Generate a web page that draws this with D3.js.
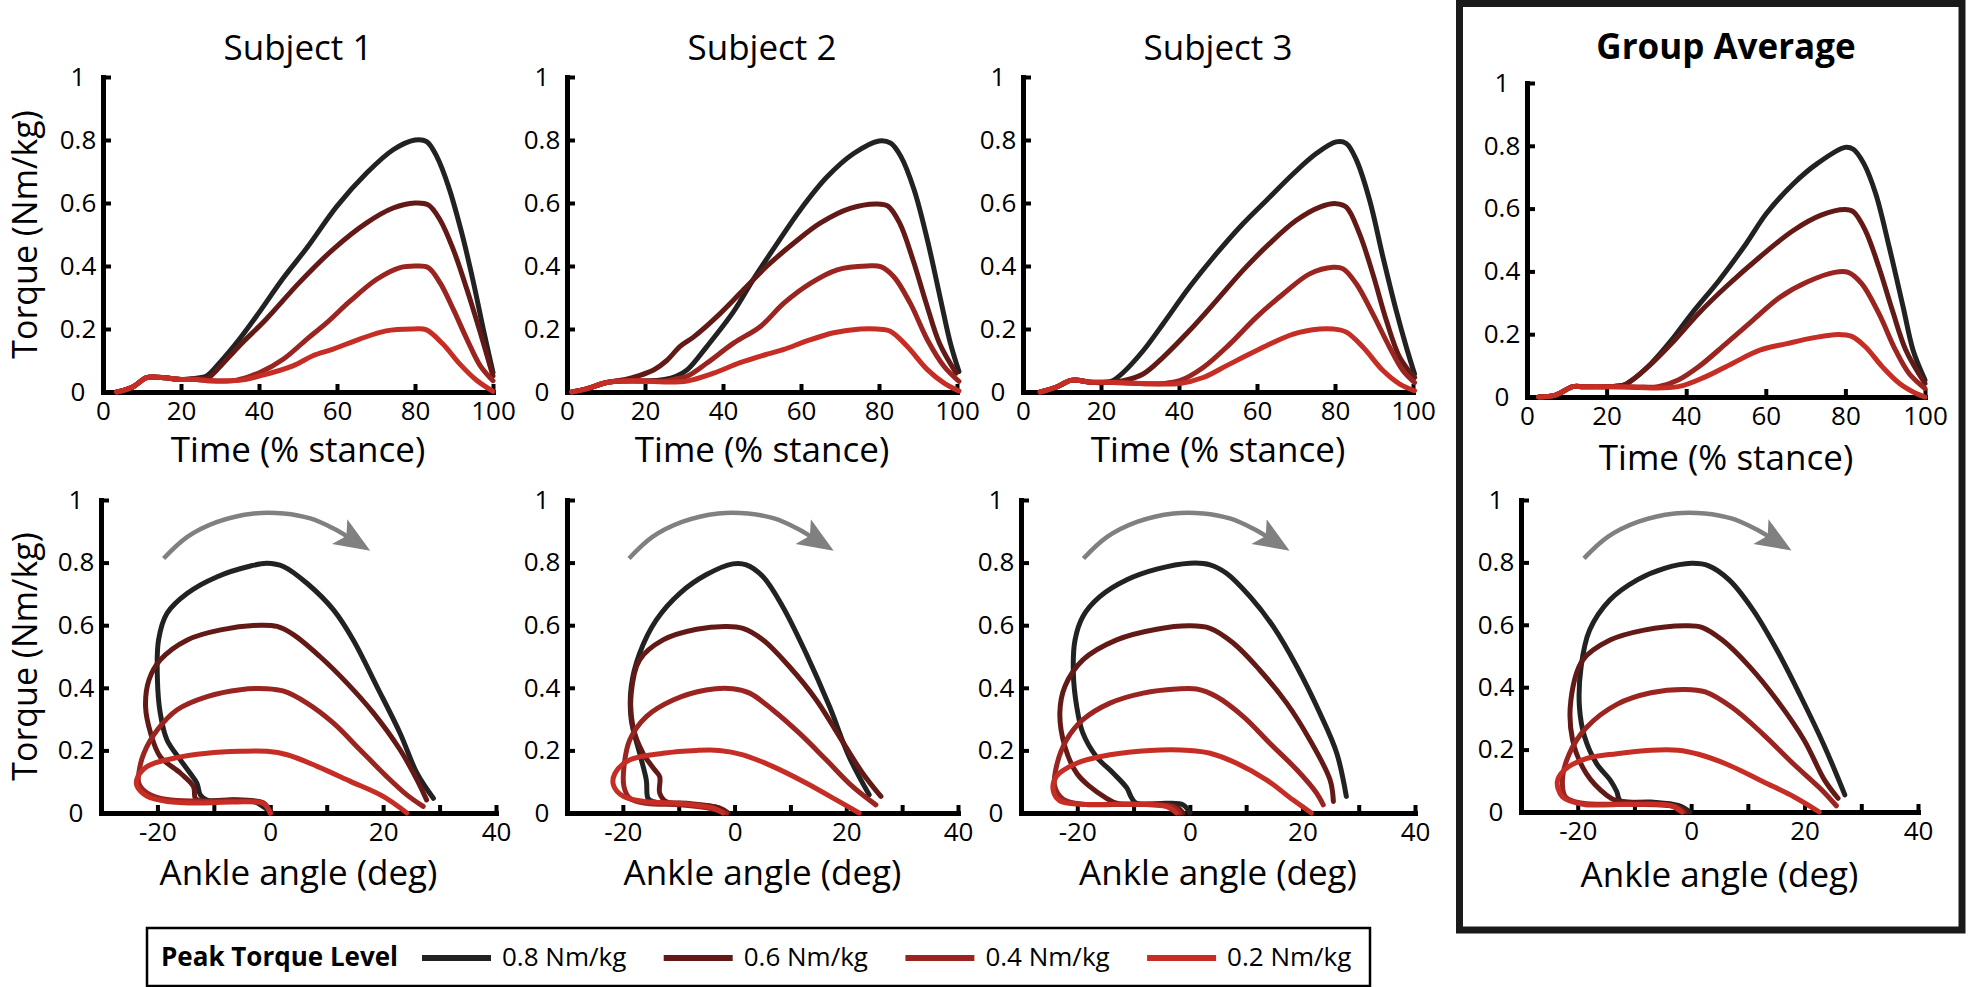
<!DOCTYPE html>
<html><head><meta charset="utf-8">
<script src="https://cdn.jsdelivr.net/npm/d3@7"></script>
<style>
body{margin:0;background:#fff}
svg{display:block}
text{font-family:'Open Sans','Noto Sans',sans-serif;fill:#000}
</style>
</head><body>
<svg id="chart" width="1968" height="987"></svg>
<script>
// ---------------- DATA ----------------
const levelLabels = ["0.8 Nm/kg", "0.6 Nm/kg", "0.4 Nm/kg", "0.2 Nm/kg"];
const levelColors = ["#222222", "#631a16", "#9a2420", "#c62d25"];
const panelTitles = ["Subject 1", "Subject 2", "Subject 3", "Group Average"];
const torqueTicks = [0, 0.2, 0.4, 0.6, 0.8, 1];
const timeTicks = [0, 20, 40, 60, 80, 100];
const angleTicks = [-20, -10, 0, 10, 20, 30, 40];

// Torque vs time (% stance); series order: 0.8, 0.6, 0.4, 0.2 Nm/kg
const subject1Time = [
  [[3.5,0],[7.5,0.015],[11,0.045],[13,0.048],[16,0.045],[20,0.04],[24,0.044],[26.5,0.05],[30,0.094],[35,0.168],[40,0.252],[46,0.358],[52.3,0.458],[60,0.59],[67.6,0.695],[74.4,0.769],[80,0.8],[83,0.795],[85.6,0.747],[88.6,0.652],[92,0.504],[95,0.347],[97.5,0.2],[100,0.062]],
  [[3.5,0],[7.5,0.015],[11,0.045],[13,0.048],[16,0.045],[20,0.04],[24,0.042],[27,0.045],[29.2,0.07],[35,0.147],[41.9,0.232],[50.4,0.348],[59,0.453],[67.6,0.537],[74.4,0.584],[80,0.6],[83.4,0.594],[86.4,0.547],[89.8,0.453],[93.3,0.326],[96.7,0.19],[100,0.051]],
  [[3.5,0],[7.5,0.015],[11,0.045],[13,0.048],[16,0.045],[20,0.04],[24,0.04],[27,0.036],[34,0.037],[40.2,0.062],[46.2,0.104],[52.3,0.168],[57.4,0.22],[63.4,0.289],[70.2,0.358],[76.2,0.395],[80.5,0.4],[83.4,0.395],[86.4,0.347],[89.8,0.263],[93.3,0.168],[96.7,0.084],[100,0.036]],
  [[3.5,0],[7.5,0.015],[11,0.045],[13,0.048],[16,0.045],[20,0.04],[24,0.04],[27,0.036],[35,0.037],[40.2,0.051],[48.7,0.083],[53.8,0.115],[59,0.136],[65.8,0.168],[72.6,0.194],[79.4,0.2],[82.8,0.198],[87.1,0.153],[91.4,0.09],[95.7,0.038],[100,0.002]]
];
const subject2Time = [
  [[1.2,0],[5,0.01],[10.2,0.03],[15,0.035],[20,0.035],[25,0.04],[28,0.05],[30.8,0.07],[35.9,0.145],[42.7,0.255],[47.9,0.36],[53.8,0.47],[59.8,0.578],[66.7,0.683],[73.5,0.757],[80,0.797],[83,0.79],[85.6,0.748],[89,0.642],[92.4,0.483],[95.8,0.293],[98.3,0.155],[100.5,0.065]],
  [[1.2,0],[5,0.01],[10.2,0.03],[15,0.04],[18,0.05],[22.2,0.07],[25.6,0.1],[29,0.145],[32.5,0.175],[38.5,0.24],[45.3,0.325],[51.3,0.4],[58.1,0.472],[64.9,0.536],[72.6,0.583],[79.4,0.597],[82.3,0.59],[85.3,0.536],[88.7,0.42],[92.1,0.282],[95.5,0.155],[99.8,0.06]],
  [[1.2,0],[5,0.01],[10.2,0.03],[15,0.035],[20,0.035],[25,0.035],[27.3,0.04],[30.8,0.05],[35.9,0.092],[42.7,0.155],[49.6,0.208],[55.6,0.282],[62.4,0.345],[69.3,0.388],[77,0.4],[80.4,0.398],[83.8,0.366],[88,0.282],[92.4,0.166],[96.7,0.081],[100.5,0.034]],
  [[1.2,0],[5,0.01],[10.2,0.03],[15,0.035],[20,0.035],[25,0.032],[30.8,0.035],[37.6,0.06],[44.4,0.093],[51.3,0.12],[55.6,0.135],[61.5,0.162],[68.4,0.188],[75.2,0.2],[79.4,0.2],[82.9,0.193],[87.2,0.145],[92.4,0.071],[96.7,0.028],[100.5,0.003]]
];
const subject3Time = [
  [[4.4,0],[8.6,0.016],[12,0.036],[13.5,0.038],[17.2,0.031],[21.5,0.031],[23,0.036],[25.7,0.062],[30.8,0.131],[35.9,0.216],[42.7,0.333],[49.6,0.439],[56.4,0.534],[62.4,0.608],[69.3,0.693],[75.2,0.757],[80.3,0.794],[82.9,0.789],[85.5,0.736],[88.9,0.608],[92.3,0.428],[95.7,0.258],[98.3,0.142],[100.4,0.057]],
  [[4.4,0],[8.6,0.016],[12,0.036],[13.5,0.038],[17.2,0.031],[21.5,0.031],[25.7,0.036],[30.8,0.057],[35.9,0.11],[42.7,0.195],[49.6,0.29],[56.4,0.386],[63.2,0.471],[70.1,0.545],[76.1,0.587],[80.3,0.598],[82.9,0.587],[86.3,0.502],[89.7,0.375],[93.2,0.226],[96.6,0.11],[100.4,0.046]],
  [[4.4,0],[8.6,0.016],[12,0.036],[13.5,0.038],[17.2,0.031],[21.5,0.031],[30,0.027],[35.9,0.027],[40.2,0.036],[46.2,0.078],[53,0.152],[59.8,0.237],[66.7,0.311],[73.5,0.375],[79.5,0.396],[82.1,0.391],[85.5,0.343],[89.7,0.248],[94,0.142],[97.4,0.068],[100.4,0.03]],
  [[4.4,0],[8.6,0.016],[12,0.036],[13.5,0.038],[17.2,0.031],[21.5,0.031],[30,0.027],[40.2,0.027],[46.2,0.046],[52.1,0.083],[56.4,0.11],[62.4,0.147],[69.3,0.184],[76.1,0.2],[79.5,0.2],[82.9,0.19],[87.2,0.142],[92.3,0.068],[96.6,0.025],[100.4,0.004]]
];
const groupTime = [
  [[2.9,0],[7.2,0.006],[11.5,0.033],[14.1,0.033],[19.2,0.033],[24.3,0.038],[26,0.05],[31.2,0.107],[36.3,0.181],[41.4,0.266],[48.3,0.372],[55.1,0.489],[60.2,0.585],[67,0.68],[73,0.744],[79.9,0.795],[82,0.789],[84.6,0.744],[87.6,0.648],[91,0.478],[94.5,0.287],[97,0.149],[100,0.054]],
  [[2.9,0],[7.2,0.006],[11.5,0.033],[14.1,0.033],[19.2,0.033],[24.3,0.038],[26,0.05],[31.2,0.105],[36.3,0.17],[43.1,0.266],[50,0.351],[58.5,0.446],[67,0.531],[73.9,0.579],[79.9,0.597],[82,0.59],[85,0.531],[88.4,0.414],[91.8,0.276],[95.2,0.149],[100,0.043]],
  [[2.9,0],[7.2,0.006],[11.5,0.033],[14.1,0.033],[19.2,0.033],[24.3,0.033],[28,0.032],[32.9,0.033],[38,0.054],[43.1,0.096],[50,0.17],[56.8,0.245],[63.7,0.319],[70.5,0.367],[77.3,0.397],[80.7,0.397],[84.1,0.361],[88.4,0.266],[92.6,0.149],[96,0.075],[100,0.027]],
  [[2.9,0],[7.2,0.006],[11.5,0.033],[14.1,0.033],[19.2,0.033],[24.3,0.032],[28,0.03],[38,0.033],[44.8,0.064],[51.6,0.107],[58.5,0.149],[65.3,0.17],[72.2,0.189],[78.2,0.199],[81.6,0.193],[85,0.16],[89.3,0.096],[93.6,0.043],[97.8,0.011],[100,0]]
];

// Torque vs ankle angle (deg); series order: 0.8, 0.6, 0.4, 0.2 Nm/kg
const subject1Angle = [
  [[0.3,0],[-0.5,0.011],[-2.8,0.036],[-6.5,0.042],[-11.2,0.041],[-12.4,0.058],[-13,0.095],[-14.2,0.127],[-15.9,0.169],[-18.3,0.233],[-19.5,0.319],[-20,0.425],[-19.8,0.553],[-18.3,0.638],[-14.7,0.702],[-9.4,0.755],[-3.5,0.789],[-0.6,0.798],[2.4,0.787],[6.5,0.734],[11.2,0.649],[14.7,0.553],[18.9,0.404],[23,0.255],[26,0.127],[28.9,0.047]],
  [[0,0],[-1.2,0.032],[-5.3,0.041],[-12.4,0.038],[-13.3,0.047],[-13.6,0.084],[-15.9,0.127],[-19.5,0.18],[-21.2,0.255],[-22.1,0.34],[-21.5,0.425],[-19.5,0.489],[-14.7,0.553],[-8.8,0.585],[-1.8,0.6],[1.2,0.596],[4.1,0.57],[8.8,0.5],[13.6,0.415],[18.3,0.319],[23,0.202],[26,0.106],[27.7,0.042]],
  [[0,0],[-1.2,0.03],[-6.5,0.038],[-12.4,0.038],[-18.3,0.043],[-21.8,0.064],[-23.3,0.095],[-23.3,0.127],[-22.4,0.191],[-20,0.266],[-16.5,0.33],[-11.2,0.372],[-5.3,0.394],[-0.6,0.397],[2.4,0.389],[6.5,0.351],[11.2,0.287],[15.9,0.202],[20.6,0.117],[24.2,0.058],[27.1,0.021]],
  [[0,0],[-1.2,0.03],[-6.5,0.035],[-12.4,0.032],[-18.3,0.037],[-21.8,0.053],[-23.6,0.085],[-23.6,0.111],[-21.8,0.149],[-17.1,0.175],[-11.2,0.191],[-5.3,0.197],[-0.6,0.197],[3,0.186],[8.3,0.149],[14.2,0.101],[20,0.053],[24.2,0]]
];
const subject2Angle = [
  [[-1.2,0],[-2.7,0.016],[-6.8,0.026],[-14.6,0.036],[-15.5,0.047],[-15.8,0.105],[-17,0.191],[-18.5,0.298],[-18.5,0.404],[-17,0.51],[-14,0.617],[-9.8,0.702],[-5.1,0.761],[-0.3,0.796],[2.1,0.793],[5.1,0.755],[8.6,0.66],[12.8,0.51],[17,0.34],[20.5,0.18],[24.1,0.058]],
  [[-1.2,0],[-2.7,0.016],[-8.6,0.031],[-12.2,0.036],[-13.4,0.063],[-13.4,0.116],[-14.3,0.138],[-16.4,0.191],[-18.2,0.276],[-18.5,0.383],[-17,0.489],[-12.8,0.553],[-6.8,0.587],[-1.5,0.596],[1.5,0.59],[5.1,0.553],[9.8,0.468],[14.6,0.362],[18.75,0.245],[22.9,0.128],[26.2,0.053]],
  [[-1.5,0],[-3.9,0.013],[-9.8,0.026],[-15.8,0.031],[-18.75,0.047],[-19.8,0.084],[-19.8,0.148],[-18.75,0.234],[-15.8,0.308],[-11,0.361],[-5.1,0.393],[-0.3,0.397],[2.7,0.383],[6.8,0.33],[11.6,0.255],[16.4,0.17],[21.1,0.085],[25.3,0.026]],
  [[-2.1,0],[-3.9,0.016],[-9.8,0.031],[-15.8,0.036],[-19.9,0.053],[-21.7,0.09],[-21.4,0.127],[-18.75,0.17],[-12.8,0.191],[-6.8,0.2],[-2.7,0.2],[1.5,0.186],[6.8,0.149],[12.8,0.096],[18.2,0.042],[22.3,0]]
];
const subject3Angle = [
  [[0,0],[-1.2,0.026],[-4.1,0.031],[-9.5,0.031],[-10.4,0.05],[-11.2,0.08],[-13.6,0.127],[-16.6,0.18],[-19,0.255],[-20.1,0.34],[-20.7,0.447],[-20.4,0.553],[-19,0.628],[-16,0.691],[-11.2,0.745],[-5.9,0.779],[0,0.798],[3.6,0.793],[6.5,0.766],[10.7,0.691],[14.8,0.596],[19,0.468],[23.1,0.319],[26.1,0.191],[27.8,0.053]],
  [[-1.2,0],[-2.4,0.02],[-7.1,0.028],[-13,0.031],[-14.8,0.047],[-17.8,0.085],[-20.1,0.127],[-22.2,0.212],[-23.1,0.319],[-22.2,0.404],[-19,0.489],[-13,0.553],[-5.9,0.587],[0,0.598],[3.6,0.59],[7.7,0.543],[12.4,0.457],[17.2,0.351],[21.3,0.234],[24.9,0.106],[25.5,0.037]],
  [[-1.8,0],[-3,0.02],[-9.5,0.028],[-19,0.028],[-22.5,0.044],[-24,0.085],[-23.7,0.149],[-21.9,0.234],[-19,0.298],[-14.2,0.351],[-8.3,0.383],[-2.4,0.396],[1.2,0.396],[4.7,0.372],[9.5,0.308],[14.2,0.223],[19,0.138],[22.5,0.064],[23.7,0.026]],
  [[-2.4,0],[-4.1,0.02],[-10,0.028],[-19,0.028],[-23.1,0.039],[-24.3,0.074],[-23.7,0.117],[-20.1,0.159],[-14.2,0.186],[-7.1,0.2],[0,0.2],[3.6,0.191],[8.3,0.159],[13.6,0.106],[18.3,0.042],[21.6,0]]
];
const groupAngle = [
  [[-0.2,0],[-2.3,0.021],[-7.1,0.032],[-12.5,0.036],[-13.1,0.065],[-14.3,0.103],[-16.7,0.156],[-18.8,0.242],[-19.7,0.338],[-19.4,0.466],[-17.9,0.583],[-14.3,0.68],[-9.5,0.744],[-4.7,0.781],[0.1,0.797],[3.1,0.789],[6.7,0.744],[10.9,0.648],[15.1,0.52],[19.3,0.371],[23.5,0.211],[27.1,0.055]],
  [[-0.8,0],[-2.3,0.016],[-8.3,0.03],[-13.1,0.036],[-14.9,0.054],[-18.5,0.124],[-20.9,0.231],[-21.2,0.359],[-19.1,0.487],[-14.3,0.551],[-8.3,0.583],[-1.1,0.597],[1.9,0.592],[5.5,0.551],[10.3,0.466],[15.1,0.359],[19.9,0.231],[23.5,0.103],[25.9,0.044]],
  [[-1.4,0],[-2.8,0.017],[-10.7,0.025],[-19.1,0.028],[-22.1,0.047],[-22.7,0.1],[-21.5,0.186],[-18.5,0.27],[-13.1,0.345],[-7.1,0.382],[-1.1,0.393],[2.5,0.385],[7.3,0.334],[12.7,0.249],[18.1,0.153],[22.9,0.073],[25.6,0.02]],
  [[-1.7,0],[-3.5,0.02],[-10.7,0.025],[-19.1,0.025],[-22.7,0.049],[-23.6,0.097],[-22.4,0.134],[-18.5,0.171],[-13.1,0.187],[-7.1,0.198],[-2.3,0.198],[1.3,0.185],[6.7,0.15],[12.7,0.097],[18.1,0.049],[22.6,0]]
];

// Gray direction arrow shaft (angle, torque) — arrowhead added at its end
const loopArrow = [[-18.9,0.813],[-14.7,0.882],[-9.4,0.93],[-2.9,0.957],[2.4,0.957],[7.1,0.941],[11.2,0.909],[13.8,0.882]];

const timeSeries = [subject1Time, subject2Time, subject3Time, groupTime];
const angleSeries = [subject1Angle, subject2Angle, subject3Angle, groupAngle];

// ---------------- LAYOUT ----------------
const layout = [
  {tx:[103,493],  ty:[392,77], bx:[101,496],  by:[813,500], timeLabY:462, angLabY:885},
  {tx:[567,957],  ty:[392,77], bx:[567,958],  by:[813,500], timeLabY:462, angLabY:885},
  {tx:[1023,1413],ty:[392,77], bx:[1021,1415],by:[813,500], timeLabY:462, angLabY:885},
  {tx:[1527,1925],ty:[397,83], bx:[1521,1918],by:[812,500], timeLabY:470, angLabY:887}
];

const svg = d3.select("#chart");
const defs = svg.append("defs");
defs.append("marker").attr("id","arrowHead")
  .attr("markerUnits","userSpaceOnUse").attr("markerWidth",44).attr("markerHeight",44)
  .attr("viewBox","0 -22 44 44").attr("refX",10).attr("refY",0).attr("orient","auto")
  .append("path").attr("d","M0,-14.5L36,0L0,14.5L8,0Z").attr("fill","#808080");

// Group average frame
svg.append("rect").attr("x",1459.5).attr("y",3.5).attr("width",502.5).attr("height",926.5)
  .attr("fill","none").attr("stroke","#1a1a1a").attr("stroke-width",7);

function styleAxis(g) {
  g.select(".domain").attr("stroke","#000").attr("stroke-width",5).attr("stroke-linecap","square");
  g.selectAll(".tick line").attr("stroke","#000").attr("stroke-width",4);
  g.selectAll(".tick text").attr("font-size",26).attr("font-family","'Open Sans',sans-serif").attr("fill","#000");
}

function drawPlot(xr, yr, xDomain, xTicks, xFmt, series) {
  const x = d3.scaleLinear().domain(xDomain).range(xr);
  const y = d3.scaleLinear().domain([0,1]).range(yr);
  const gx = svg.append("g").attr("transform",`translate(0,${yr[0]})`)
    .call(d3.axisBottom(x).tickValues(xTicks).tickSizeInner(-8).tickSizeOuter(0).tickPadding(10).tickFormat(xFmt));
  styleAxis(gx);
  const gy = svg.append("g").attr("transform",`translate(${xr[0]},0)`)
    .call(d3.axisLeft(y).tickValues(torqueTicks).tickSizeInner(-8).tickSizeOuter(0).tickFormat(d3.format("~g")));
  styleAxis(gy);
  gy.selectAll(".tick text").attr("x",-25).attr("text-anchor","middle");
  const line = d3.line().x(d=>x(d[0])).y(d=>y(d[1])).curve(d3.curveCatmullRom.alpha(0.5));
  svg.append("g").selectAll("path").data(series).join("path")
    .attr("d", line).attr("fill","none")
    .attr("stroke",(d,i)=>levelColors[i]).attr("stroke-width",5)
    .attr("stroke-linejoin","round").attr("stroke-linecap","round");
  return {x,y};
}

layout.forEach((L,p)=>{
  const cxTop = (L.tx[0]+L.tx[1])/2;
  const cxBot = (L.bx[0]+L.bx[1])/2;
  // title
  svg.append("text").attr("x",cxTop).attr("y",p===3?59:60).attr("text-anchor","middle")
    .attr("font-size",35).attr("font-weight",p===3?"bold":"normal").text(panelTitles[p]);
  // top: torque vs time
  drawPlot(L.tx, L.ty, [0,100], timeTicks, d3.format("d"), timeSeries[p]);
  svg.append("text").attr("x",cxTop).attr("y",L.timeLabY).attr("text-anchor","middle")
    .attr("font-size",35).text("Time (% stance)");
  // bottom: torque vs angle
  const s = drawPlot(L.bx, L.by, [-30,40], angleTicks, d=> d%20===0 ? String(d) : "", angleSeries[p]);
  const aLine = d3.line().x(d=>s.x(d[0])).y(d=>s.y(d[1])).curve(d3.curveCatmullRom.alpha(0.5));
  svg.append("path").attr("d",aLine(loopArrow)).attr("fill","none").attr("stroke","#808080")
    .attr("stroke-width",4.5).attr("marker-end","url(#arrowHead)");
  svg.append("text").attr("x",cxBot).attr("y",L.angLabY).attr("text-anchor","middle")
    .attr("font-size",35).text("Ankle angle (deg)");
  if (p===0) {
    svg.append("text").attr("transform",`translate(37,${(L.ty[0]+L.ty[1])/2}) rotate(-90)`)
      .attr("text-anchor","middle").attr("font-size",34).text("Torque (Nm/kg)");
    svg.append("text").attr("transform",`translate(37,${(L.by[0]+L.by[1])/2}) rotate(-90)`)
      .attr("text-anchor","middle").attr("font-size",34).text("Torque (Nm/kg)");
  }
});

// Legend
const leg = svg.append("g");
leg.append("rect").attr("x",147).attr("y",928).attr("width",1223).attr("height",58)
  .attr("fill","#fff").attr("stroke","#000").attr("stroke-width",2.5);
leg.append("text").attr("x",161).attr("y",966).attr("font-size",26).attr("font-weight","bold").text("Peak Torque Level");
const items = leg.selectAll("g.item").data(levelLabels).join("g").attr("class","item")
  .attr("transform",(d,i)=>`translate(${422 + i*241.7},0)`);
items.append("line").attr("x1",0).attr("x2",69).attr("y1",958).attr("y2",958)
  .attr("stroke",(d,i)=>levelColors[i]).attr("stroke-width",6);
items.append("text").attr("x",80).attr("y",966).attr("font-size",26).text(d=>d);
</script>
</body></html>
